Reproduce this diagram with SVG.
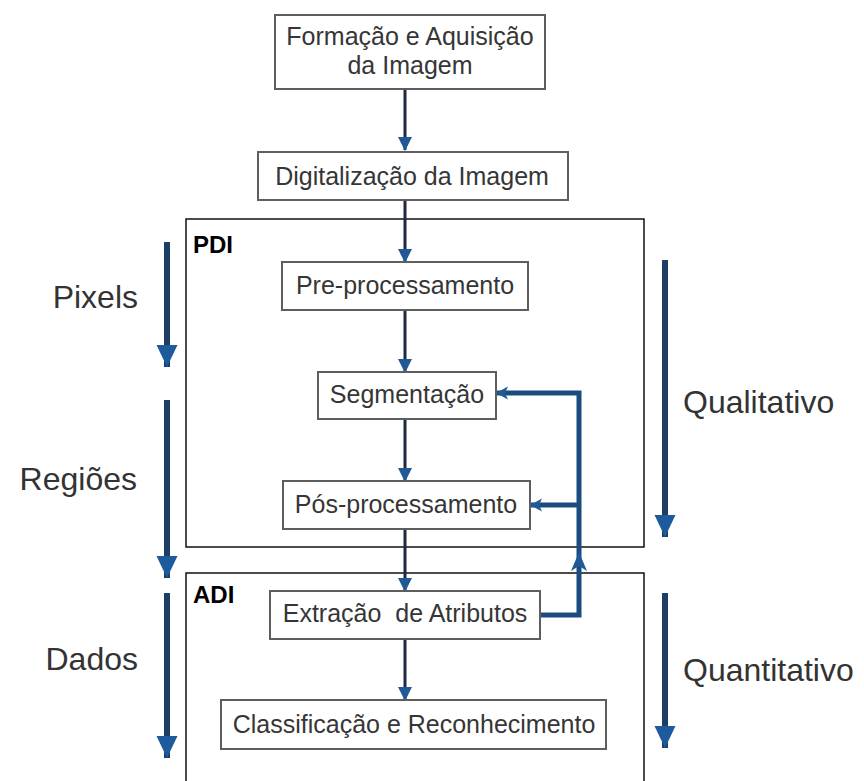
<svg xmlns="http://www.w3.org/2000/svg" width="864" height="781" viewBox="0 0 864 781">
  <style>
    .box { fill: #ffffff; stroke: #5e5e5e; stroke-width: 2; }
    .frame { fill: none; stroke: #111111; stroke-width: 1.5; }
    .label { font-family: "Liberation Sans", Arial, sans-serif; font-size: 25px; fill: #363636; text-anchor: middle; }
    .side { font-family: "Liberation Sans", Arial, sans-serif; font-size: 32px; fill: #333333; }
    .tag { font-family: "Liberation Sans", Arial, sans-serif; font-size: 24px; font-weight: bold; fill: #000000; }
    .flow { fill: none; stroke: #1c2a3c; stroke-width: 3; }
    .loop { fill: none; stroke: #1c4b80; stroke-width: 5; stroke-linejoin: miter; }
    .axis { fill: none; stroke: #1d3e66; stroke-width: 6; }
    .head { fill: #1f5a96; }
    .axishead { fill: #1e5b9c; }
  </style>
  <defs>
    <marker id="arrow" markerUnits="userSpaceOnUse" markerWidth="14" markerHeight="16" refX="13" refY="7" orient="auto">
      <path class="head" d="M0,0 L14,7 L0,14 Z"/>
    </marker>
    <marker id="loopArrow" markerUnits="userSpaceOnUse" markerWidth="12" markerHeight="14" refX="11" refY="6.5" orient="auto">
      <path class="head" d="M0,0 L12,6.5 L0,13 L3,6.5 Z"/>
    </marker>
    <marker id="axisArrow" markerUnits="userSpaceOnUse" markerWidth="24" markerHeight="22" refX="22" refY="10.5" orient="auto">
      <path class="axishead" d="M0,0 L22,10.5 L0,21 Z"/>
    </marker>
  </defs>

  <!-- PDI and ADI frames -->
  <g id="frame-pdi">
    <rect class="frame" x="186" y="219" width="458" height="328"/>
    <text class="tag" x="193" y="253">PDI</text>
  </g>
  <g id="frame-adi">
    <rect class="frame" x="186" y="573" width="458" height="230"/>
    <text class="tag" x="193" y="603">ADI</text>
  </g>

  <!-- connectors -->
  <g id="connectors">
    <line class="flow" x1="405" y1="89" x2="405" y2="150" marker-end="url(#arrow)"/>
    <line class="flow" x1="405" y1="200" x2="405" y2="262" marker-end="url(#arrow)"/>
    <line class="flow" x1="405" y1="310" x2="405" y2="372" marker-end="url(#arrow)"/>
    <line class="flow" x1="405" y1="419" x2="405" y2="481" marker-end="url(#arrow)"/>
    <line class="flow" x1="405" y1="529" x2="405" y2="591" marker-end="url(#arrow)"/>
    <line class="flow" x1="405" y1="639" x2="405" y2="700" marker-end="url(#arrow)"/>

    <!-- feedback from attribute extraction -->
    <path class="loop" d="M540,615 H579 V393 H497" marker-end="url(#loopArrow)"/>
    <path class="loop" d="M579,505 H531" marker-end="url(#loopArrow)"/>
    <path class="head" d="M579,552 L587,571 L579,566 L571,571 Z"/>

    <!-- side axes -->
    <line class="axis" x1="167" y1="242" x2="167" y2="367" marker-end="url(#axisArrow)"/>
    <line class="axis" x1="167" y1="400" x2="167" y2="578" marker-end="url(#axisArrow)"/>
    <line class="axis" x1="167" y1="593" x2="167" y2="758" marker-end="url(#axisArrow)"/>
    <line class="axis" x1="665" y1="260" x2="665" y2="537" marker-end="url(#axisArrow)"/>
    <line class="axis" x1="665" y1="593" x2="665" y2="748" marker-end="url(#axisArrow)"/>
  </g>

  <!-- process steps -->
  <g id="node-formacao">
    <rect class="box" x="275" y="15" width="270" height="74"/>
    <text class="label" x="410" y="45">Formação e Aquisição</text>
    <text class="label" x="410" y="74">da Imagem</text>
  </g>
  <g id="node-digitalizacao">
    <rect class="box" x="258" y="152" width="310" height="48"/>
    <text class="label" x="412" y="185">Digitalização da Imagem</text>
  </g>
  <g id="node-pre">
    <rect class="box" x="282" y="262" width="246" height="48"/>
    <text class="label" x="405" y="294">Pre-processamento</text>
  </g>
  <g id="node-segmentacao">
    <rect class="box" x="318" y="372" width="178" height="47"/>
    <text class="label" x="407" y="403">Segmentação</text>
  </g>
  <g id="node-pos">
    <rect class="box" x="283" y="481" width="247" height="48"/>
    <text class="label" x="406" y="513">Pós-processamento</text>
  </g>
  <g id="node-extracao">
    <rect class="box" x="270" y="591" width="270" height="48"/>
    <text class="label" x="405" y="622" xml:space="preserve">Extração  de Atributos</text>
  </g>
  <g id="node-classificacao">
    <rect class="box" x="221" y="700" width="385" height="49"/>
    <text class="label" x="414" y="733">Classificação e Reconhecimento</text>
  </g>

  <!-- axis labels -->
  <g id="label-pixels"><text class="side" x="138" y="308" text-anchor="end">Pixels</text></g>
  <g id="label-regioes"><text class="side" x="137" y="490" text-anchor="end">Regiões</text></g>
  <g id="label-dados"><text class="side" x="138" y="670" text-anchor="end">Dados</text></g>
  <g id="label-qualitativo"><text class="side" x="683" y="413">Qualitativo</text></g>
  <g id="label-quantitativo"><text class="side" x="683" y="681">Quantitativo</text></g>
</svg>
